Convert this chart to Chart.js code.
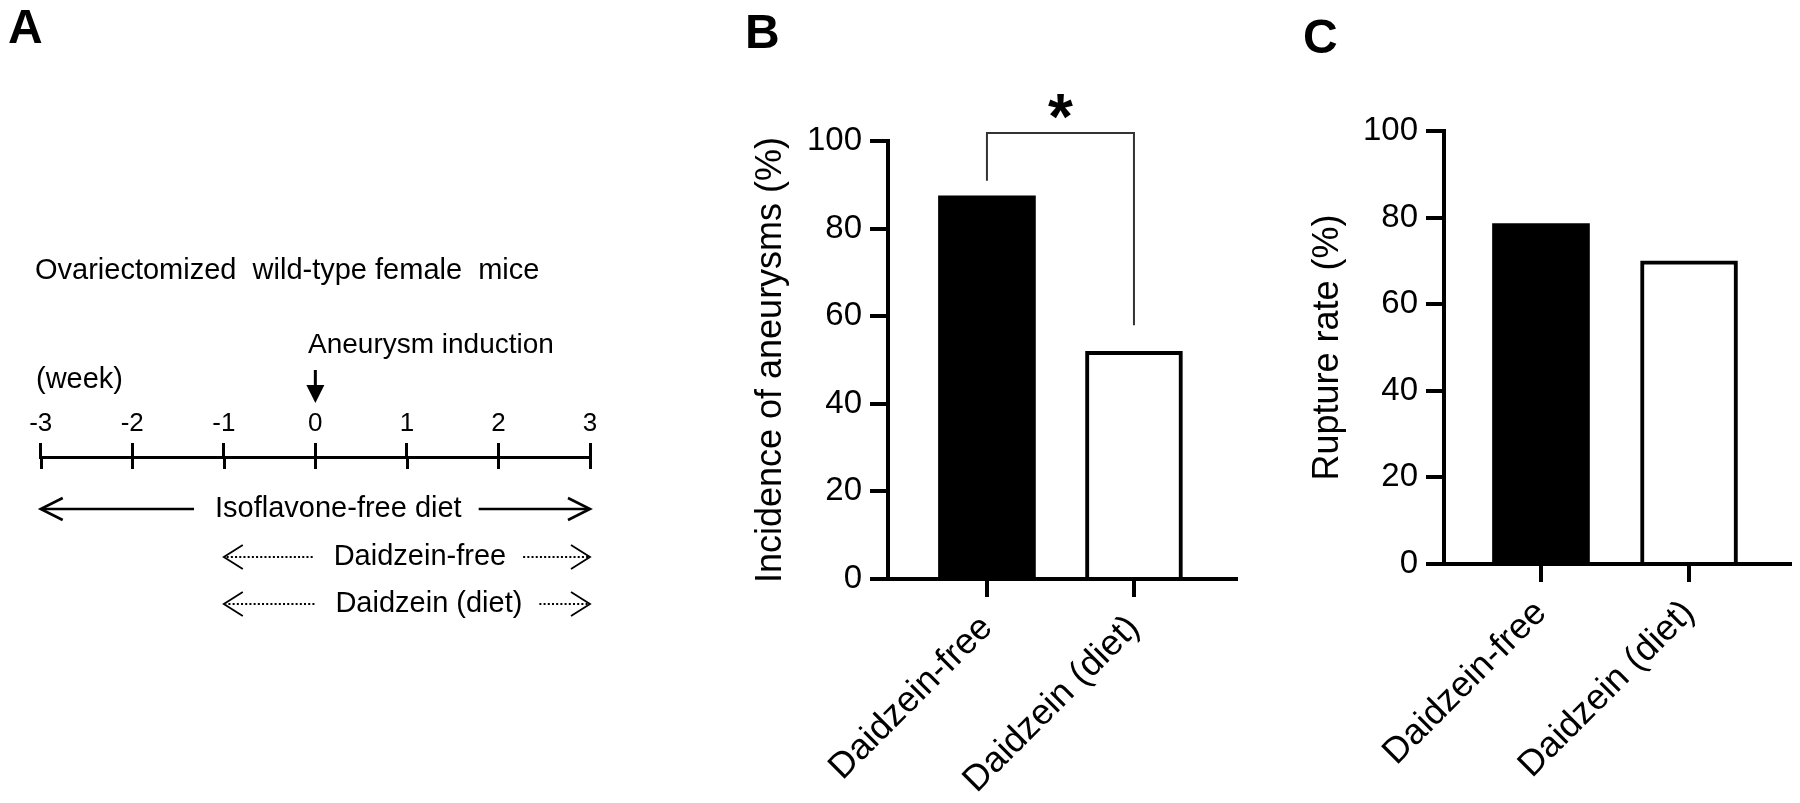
<!DOCTYPE html>
<html>
<head>
<meta charset="utf-8">
<script src="https://cdn.jsdelivr.net/npm/chart.js@4.4.0/dist/chart.umd.min.js"></script>
<style>
  html, body { margin: 0; padding: 0; background: #fff; }
  #wrap { position: relative; width: 1800px; height: 803px; overflow: hidden; background: #fff; }
  #wrap canvas { position: absolute; top: 0; }
</style>
</head>
<body>
<div id="wrap">
  <canvas id="cA" width="620" height="803" style="left:0px"></canvas>
  <canvas id="cB" width="530" height="803" style="left:740px"></canvas>
  <canvas id="cC" width="510" height="803" style="left:1290px"></canvas>
</div>
<script>
// --- data ---
const categories = ['Daidzein-free', 'Daidzein (diet)'];
const incidence = [87.5, 52];      // panel B, %
const ruptureRate = [78.6, 70];    // panel C, %
const yTicks = [0, 20, 40, 60, 80, 100];
const weekTicks = [-3, -2, -1, 0, 1, 2, 3];
const dietLabels = ['Isoflavone-free diet', 'Daidzein-free', 'Daidzein (diet)'];
const dietStart = [-3, -1, -1];
const dietEnd = [3, 3, 3];
const dietDotted = [false, true, true];
const inductionWeek = 0;

const FAMILY = "'Liberation Sans', Arial, Helvetica, sans-serif";
Chart.defaults.font.family = FAMILY;
Chart.defaults.color = '#000';

const fixTicks = list => s => { s.ticks = list.map(v => ({ value: v })); };

// panel letter, drawn on each canvas
function letter(ctx, ch, x, y) {
  ctx.save();
  ctx.fillStyle = '#000';
  ctx.font = 'bold 48px ' + FAMILY;
  ctx.textAlign = 'left';
  ctx.textBaseline = 'alphabetic';
  ctx.fillText(ch, x, y);
  ctx.restore();
}

// open chevron arrow from tail to tip
function arrow(ctx, tip, tail, y, dotted) {
  const dir = Math.sign(tail - tip);
  ctx.lineWidth = dotted ? 2 : 2.6;
  ctx.setLineDash(dotted ? [2, 2.2] : []);
  ctx.beginPath();
  ctx.moveTo(tail, y);
  ctx.lineTo(tip + dir * 2, y);
  ctx.stroke();
  ctx.setLineDash([]);
  const len = dotted ? 19 : 22, h = dotted ? 12 : 11;
  ctx.lineWidth = dotted ? 1.8 : 2.6;
  ctx.beginPath();
  ctx.moveTo(tip + dir * len, y - h);
  ctx.lineTo(tip, y);
  ctx.lineTo(tip + dir * len, y + h);
  ctx.stroke();
}

// ---------- panel A: timeline ----------
const rowY = [509, 557, 604];
const labelShift = [23, 13, 22];

const timelinePlugin = {
  id: 'timeline',
  afterDraw(chart) {
    const { ctx } = chart;
    const xs = chart.scales.x;
    const base = chart.chartArea.top;
    ctx.save();
    ctx.strokeStyle = '#000';
    ctx.fillStyle = '#000';

    // lower half of the week ticks
    ctx.lineWidth = 3;
    weekTicks.forEach(w => {
      const px = Math.round(xs.getPixelForValue(w)) + 0.5;
      ctx.beginPath();
      ctx.moveTo(px, base);
      ctx.lineTo(px, base + 12);
      ctx.stroke();
    });

    ctx.textAlign = 'left';
    ctx.textBaseline = 'alphabetic';
    ctx.font = '29px ' + FAMILY;
    ctx.fillText('Ovariectomized  wild-type female  mice', 35, 279);
    ctx.fillText('(week)', 36, 388);
    ctx.font = '28px ' + FAMILY;
    ctx.fillText('Aneurysm induction', 308, 353);

    // induction arrow
    const x0 = xs.getPixelForValue(inductionWeek);
    ctx.lineWidth = 3;
    ctx.beginPath();
    ctx.moveTo(x0, 370);
    ctx.lineTo(x0, 388);
    ctx.stroke();
    ctx.beginPath();
    ctx.moveTo(x0 - 9, 385);
    ctx.lineTo(x0 + 9, 385);
    ctx.lineTo(x0, 403);
    ctx.closePath();
    ctx.fill();

    // diet rows
    ctx.font = '29px ' + FAMILY;
    ctx.textAlign = 'center';
    ctx.textBaseline = 'middle';
    dietLabels.forEach((label, i) => {
      const y = rowY[i];
      const a = xs.getPixelForValue(dietStart[i]);
      const b = xs.getPixelForValue(dietEnd[i]);
      const cx = (a + b) / 2 + labelShift[i];
      ctx.fillText(label, cx, y);
      const w = ctx.measureText(label).width;
      arrow(ctx, a, cx - w / 2 - 21, y, dietDotted[i]);
      arrow(ctx, b, cx + w / 2 + 17, y, dietDotted[i]);
    });

    ctx.restore();
    letter(ctx, 'A', 8, 43);
  }
};

new Chart(document.getElementById('cA'), {
  type: 'scatter',
  data: { datasets: [] },
  options: {
    responsive: false,
    animation: false,
    devicePixelRatio: 1,
    layout: { padding: { left: 40.7, right: 30, top: 380, bottom: 0 } },
    plugins: { legend: { display: false }, tooltip: { enabled: false } },
    scales: {
      x: {
        type: 'linear', position: 'top', min: -3, max: 3,
        afterBuildTicks: fixTicks(weekTicks),
        afterFit: s => { s.height = 77; s.paddingLeft = 0; s.paddingRight = 0; },
        grid: { drawOnChartArea: false, tickLength: 14, lineWidth: 3, color: '#000' },
        border: { display: true, width: 3, color: '#000' },
        ticks: { padding: 4, color: '#000', font: { size: 26 }, maxRotation: 0 },
      },
      y: { display: false, min: 0, max: 1 },
    },
  },
  plugins: [timelinePlugin],
});

// ---------- panels B and C: bar charts ----------
function barPanel(id, values, o) {
  return new Chart(document.getElementById(id), {
    type: 'bar',
    data: {
      datasets: [{
        data: values.map((v, i) => ({ x: i, y: v })),
        backgroundColor: ['#000', '#fff'],
        borderColor: '#000',
        borderWidth: [0, 4],
        barThickness: 97,
      }],
    },
    options: {
      responsive: false,
      animation: false,
      devicePixelRatio: 1,
      layout: { padding: { left: 0, top: o.top, right: o.right, bottom: 0 } },
      plugins: { legend: { display: false }, tooltip: { enabled: false } },
      scales: {
        x: {
          type: 'linear', min: o.xMin, max: o.xMax, offset: false,
          afterBuildTicks: fixTicks(categories.map((c, i) => i)),
          afterFit: s => { s.height = o.xHeight; s.paddingLeft = 0; s.paddingRight = 0; },
          grid: { offset: false, drawOnChartArea: false, tickLength: 18, lineWidth: 4, color: '#000' },
          border: { display: true, width: 4, color: '#000', z: 1 },
          ticks: {
            autoSkip: false, minRotation: 45, maxRotation: 45, padding: 10,
            color: '#000', font: { size: 36 },
            callback: v => categories[v],
          },
        },
        y: {
          min: 0, max: 100,
          afterBuildTicks: fixTicks(yTicks),
          afterFit: s => { s.width = o.yWidth; },
          grid: { drawOnChartArea: false, tickLength: 18, lineWidth: 4, color: '#000' },
          border: { display: true, width: 4, color: '#000', z: 1 },
          ticks: { padding: 8, color: '#000', font: { size: 33 } },
          title: {
            display: true, text: o.title, color: '#000',
            font: { size: 36 }, padding: { top: o.titlePad, bottom: 0 },
          },
        },
      },
    },
    plugins: [o.extra],
  });
}

barPanel('cB', incidence, {
  title: 'Incidence of aneurysms (%)',
  top: 141, right: 34, xHeight: 224, yWidth: 148, titlePad: 9.4,
  xMin: -0.673, xMax: 1.694,
  extra: {
    id: 'sigB',
    afterDraw(chart) {
      const { ctx } = chart;
      const xs = chart.scales.x, ys = chart.scales.y;
      const xa = xs.getPixelForValue(0), xb = xs.getPixelForValue(1);
      const top = ys.getPixelForValue(100) - 8;
      const la = ys.getPixelForValue(incidence[0]) - 15;
      const lb = ys.getPixelForValue(incidence[1]) - 26;
      ctx.save();
      ctx.strokeStyle = '#333';
      ctx.lineWidth = 2;
      ctx.beginPath();
      ctx.moveTo(xa, la);
      ctx.lineTo(xa, top);
      ctx.lineTo(xb, top);
      ctx.lineTo(xb, lb);
      ctx.stroke();
      ctx.fillStyle = '#000';
      ctx.font = 'bold 64px ' + FAMILY;
      ctx.textAlign = 'center';
      ctx.textBaseline = 'alphabetic';
      const m = ctx.measureText('*');
      const cy = top - 27;
      ctx.fillText('*', (xa + xb) / 2, cy + (m.actualBoundingBoxAscent - m.actualBoundingBoxDescent) / 2);
      ctx.restore();
      letter(ctx, 'B', 5, 48);
    },
  },
});

barPanel('cC', ruptureRate, {
  title: 'Rupture rate (%)',
  top: 131, right: 10, xHeight: 239, yWidth: 154, titlePad: 16.4,
  xMin: -0.655, xMax: 1.682,
  extra: {
    id: 'letterC',
    afterDraw(chart) { letter(chart.ctx, 'C', 13, 53); },
  },
});
</script>
</body>
</html>
